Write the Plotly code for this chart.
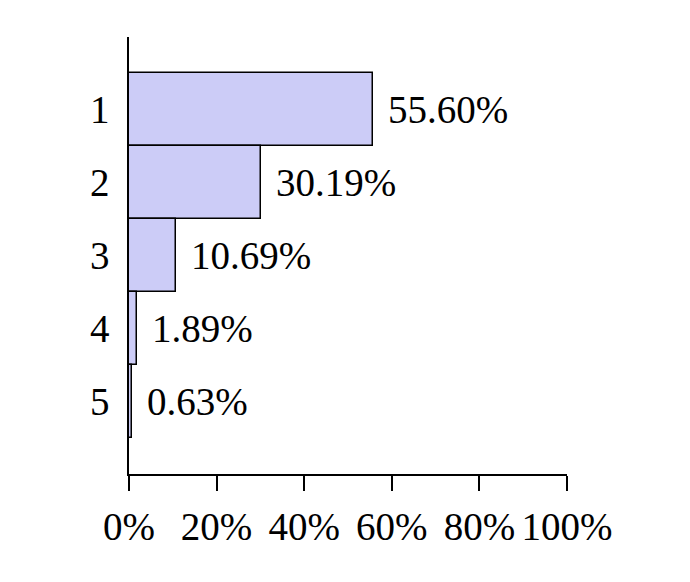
import plotly.graph_objects as go

# share of each rank
categories = ["1", "2", "3", "4", "5"]
shares = [55.60, 30.19, 10.69, 1.89, 0.63]
x_ticks = [0, 20, 40, 60, 80, 100]
x_tick_labels = ["0%", "20%", "40%", "60%", "80%", "100%"]

FONT = "Liberation Serif"

fig = go.Figure()
fig.add_trace(go.Bar(
    y=categories, x=shares, orientation="h",
    marker=dict(color="#ccccf7", line=dict(color="black", width=1.5)),
    width=1.0,
    hoverinfo="skip",
))

# value labels (y given as category index so they line up with the bars)
for i, val in enumerate(shares):
    fig.add_annotation(
        x=val, y=i, text=f"{val:.2f}%", showarrow=False,
        xanchor="left", xshift=13, font=dict(size=39, color="black", family=FONT),
    )

fig.update_layout(
    width=690, height=582,
    margin=dict(l=121, r=131, t=29, b=116),
    plot_bgcolor="white", paper_bgcolor="white",
    showlegend=False,
    font=dict(family=FONT, size=39, color="black"),
    bargap=0,
)
fig.update_xaxes(
    range=[0, 100], tickvals=x_ticks, ticktext=x_tick_labels, automargin=False,
    showgrid=False, zeroline=False, showline=True, linecolor="black", linewidth=1.5,
    ticks="outside", ticklen=15, tickwidth=1.5, tickcolor="black", ticklabelstandoff=2,
)
fig.update_yaxes(
    type="category", categoryorder="array", categoryarray=categories,
    autorange=False, range=[5, -1], automargin=False,
    showgrid=False, zeroline=False, showline=True, linecolor="black", linewidth=1.5,
    ticks="", ticklabelstandoff=10,
)

fig.write_html("out.html")
